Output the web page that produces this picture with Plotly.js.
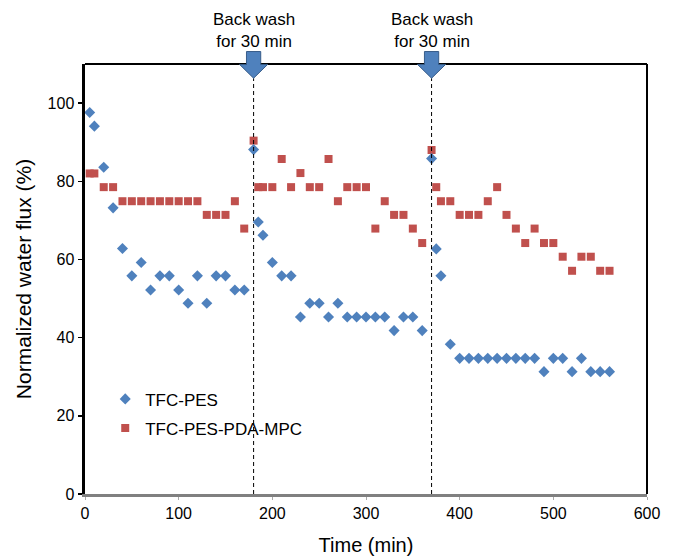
<!DOCTYPE html>
<html>
<head>
<meta charset="utf-8">
<script src="https://cdn.plot.ly/plotly-3.0.1.min.js"></script>
<style>html,body{margin:0;padding:0;background:#fff;}#chart{width:678px;height:556px;}</style>
</head>
<body>
<div id="chart"></div>
<script>
const timePES = [5,10,20,30,40,50,60,70,80,90,100,110,120,130,140,150,160,170,180,185,190,200,210,220,230,240,250,260,270,280,290,300,310,320,330,340,350,360,370,375,380,390,400,410,420,430,440,450,460,470,480,490,500,510,520,530,540,550,560];
const fluxPES = [97.6,94.1,83.6,73.2,62.8,55.8,59.2,52.2,55.8,55.8,52.2,48.8,55.8,48.8,55.8,55.8,52.2,52.2,88.1,69.6,66.2,59.2,55.8,55.8,45.3,48.8,48.8,45.3,48.8,45.3,45.3,45.3,45.3,45.3,41.8,45.3,45.3,41.8,85.8,62.7,55.8,38.3,34.7,34.7,34.7,34.7,34.7,34.7,34.7,34.7,34.7,31.3,34.7,34.7,31.3,34.7,31.3,31.3,31.3];
const timeMPC = [5,10,20,30,40,50,60,70,80,90,100,110,120,130,140,150,160,170,180,185,190,200,210,220,230,240,250,260,270,280,290,300,310,320,330,340,350,360,370,375,380,390,400,410,420,430,440,450,460,470,480,490,500,510,520,530,540,550,560];
const fluxMPC = [82.0,82.0,78.5,78.5,74.9,74.9,74.9,74.9,74.9,74.9,74.9,74.9,74.9,71.4,71.4,71.4,74.9,67.9,90.4,78.5,78.5,78.5,85.7,78.5,82.1,78.5,78.5,85.7,74.9,78.5,78.5,78.5,67.9,74.9,71.4,71.4,67.9,64.2,88.0,78.5,74.9,74.9,71.4,71.4,71.4,74.9,78.5,71.4,67.9,64.2,67.9,64.2,64.2,60.7,57.1,60.7,60.7,57.1,57.1];
const seriesNames = ['TFC-PES', 'TFC-PES-PDA-MPC'];
const backwashTimes = [180, 370];
const backwashLabel = 'Back wash<br>for 30 min';
const xTicks = [0,100,200,300,400,500,600];
const yTicks = [0,20,40,60,80,100];

const FONT = 'Liberation Sans, Arial, sans-serif';
const BLUE = '#4F81BD', RED = '#C0504D';

const traces = [
  {x: timeMPC, y: fluxMPC, name: seriesNames[1], type: 'scatter', mode: 'markers', legendgroup: 'b', legendrank: 2,
   marker: {symbol: 'square', size: 8, color: RED}, cliponaxis: false},
  {x: timePES, y: fluxPES, name: seriesNames[0], type: 'scatter', mode: 'markers', legendgroup: 'a', legendrank: 1,
   marker: {symbol: 'diamond', size: 8.5, color: BLUE}, cliponaxis: false}
];

const shapes = [];
const annotations = [];
// top and right frame lines (drawn first so the arrows sit over them)
shapes.push({type: 'line', xref: 'paper', yref: 'paper', x0: 0, x1: 1, y0: 1, y1: 1, line: {color: '#000', width: 2}, layer: 'above'});
shapes.push({type: 'line', xref: 'paper', yref: 'paper', x0: 1, x1: 1, y0: 0, y1: 1, line: {color: '#000', width: 2}, layer: 'above'});
backwashTimes.forEach(t => {
  shapes.push({type: 'line', xref: 'x', yref: 'paper', x0: t, x1: t, y0: 0, y1: 0.967,
    line: {color: '#000', width: 1, dash: '4px,3px'}, layer: 'above'});
  const sw = 7.6, hw = 15;
  const path = `M ${t - sw} 1.029 L ${t + sw} 1.029 L ${t + sw} 0.999 L ${t + hw} 0.999 L ${t} 0.967 L ${t - hw} 0.999 L ${t - sw} 0.999 Z`;
  shapes.push({type: 'path', xref: 'x', yref: 'paper', path: path,
    fillcolor: BLUE, line: {color: '#385D8A', width: 1}, layer: 'above'});
  annotations.push({x: t, y: 1.077, xref: 'x', yref: 'paper', text: backwashLabel, showarrow: false,
    xanchor: 'center', yanchor: 'middle', font: {family: FONT, size: 17, color: '#000'}});
});

const layout = {
  width: 678, height: 556,
  margin: {l: 85, r: 31, t: 64, b: 62},
  paper_bgcolor: '#fff', plot_bgcolor: '#fff',
  font: {family: FONT, color: '#000'},
  showlegend: true,
  legend: {x: 0.036, y: 0.262, xanchor: 'left', yanchor: 'top', bgcolor: 'rgba(0,0,0,0)',
    font: {family: FONT, size: 17, color: '#000'}, tracegroupgap: 4, itemwidth: 30},
  xaxis: {range: [0, 600], tickvals: xTicks, ticktext: xTicks.map(String), showgrid: false, zeroline: false,
    showline: true, linecolor: '#808080', linewidth: 2.5, ticks: 'outside', ticklen: 3, tickcolor: '#aaa', tickwidth: 1,
    tickfont: {family: FONT, size: 16, color: '#000'},
    title: {text: 'Time (min)', font: {family: FONT, size: 20, color: '#000'}}, automargin: false},
  yaxis: {range: [0, 110], tickvals: yTicks, ticktext: yTicks.map(String), showgrid: false, zeroline: false,
    showline: true, linecolor: '#000', linewidth: 3.5, ticks: 'outside', ticklen: 4, tickcolor: '#000', tickwidth: 1.5,
    tickfont: {family: FONT, size: 16, color: '#000'},
    title: {text: 'Normalized water flux (%)', font: {family: FONT, size: 21, color: '#000'}}, automargin: false},
  shapes: shapes,
  annotations: annotations
};

Plotly.newPlot('chart', traces, layout, {displayModeBar: false, staticPlot: true});
</script>
</body>
</html>
